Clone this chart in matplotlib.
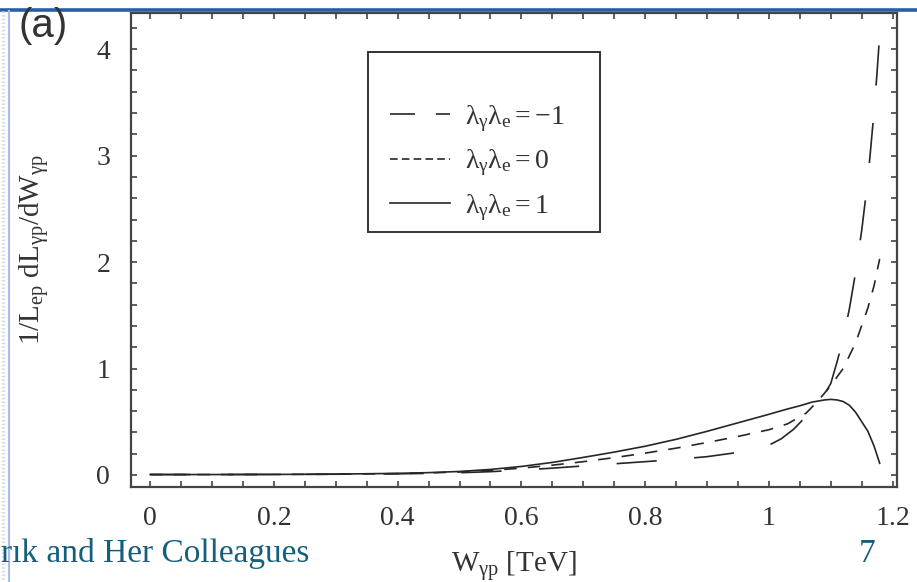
import matplotlib
matplotlib.use('Agg')
import matplotlib.pyplot as plt
from matplotlib.lines import Line2D
from matplotlib.patches import Rectangle
from matplotlib.ticker import MultipleLocator

plt.rcParams['font.family'] = 'Liberation Serif'
plt.rcParams['mathtext.fontset'] = 'custom'
plt.rcParams['mathtext.rm'] = 'Liberation Serif'
plt.rcParams['mathtext.it'] = 'Liberation Serif'
plt.rcParams['mathtext.bf'] = 'Liberation Serif:bold'
plt.rcParams['lines.scale_dashes'] = False

# data (W in TeV)
w_pos = [0, 0.1, 0.2, 0.3, 0.4, 0.45, 0.5, 0.55, 0.6, 0.65, 0.7, 0.75, 0.8, 0.85, 0.9,
         0.95, 1.0, 1.03, 1.05, 1.07, 1.09, 1.10, 1.11, 1.12, 1.13, 1.14, 1.15, 1.16,
         1.17, 1.179]
lum_pos = [0.004, 0.004, 0.005, 0.008, 0.015, 0.022, 0.033, 0.052, 0.08, 0.118, 0.165,
           0.215, 0.27, 0.335, 0.41, 0.49, 0.57, 0.62, 0.65, 0.685, 0.705, 0.71, 0.705,
           0.69, 0.655, 0.59, 0.50, 0.41, 0.27, 0.11]

w_zero = [0, 0.1, 0.2, 0.3, 0.4, 0.45, 0.5, 0.55, 0.6, 0.65, 0.7, 0.75, 0.8, 0.85, 0.9,
          0.95, 1.0, 1.03, 1.06, 1.08, 1.10, 1.12, 1.14, 1.16, 1.17, 1.179]
lum_zero = [0.004, 0.004, 0.005, 0.007, 0.013, 0.019, 0.028, 0.043, 0.064, 0.092, 0.125,
            0.163, 0.205, 0.252, 0.305, 0.362, 0.425, 0.48, 0.58, 0.70, 0.84, 1.00, 1.24,
            1.57, 1.78, 2.03]

w_neg = [0, 0.1, 0.2, 0.3, 0.4, 0.45, 0.5, 0.55, 0.6, 0.65, 0.7, 0.75, 0.8, 0.85, 0.9,
         0.95, 0.98, 1.0, 1.02, 1.04, 1.06, 1.08, 1.09, 1.10, 1.11, 1.12, 1.13, 1.14,
         1.15, 1.16, 1.17, 1.175, 1.18]
lum_neg = [0.004, 0.004, 0.005, 0.007, 0.011, 0.015, 0.021, 0.031, 0.046, 0.064, 0.085,
           0.105, 0.125, 0.146, 0.172, 0.212, 0.245, 0.28, 0.34, 0.43, 0.55, 0.68, 0.76,
           0.86, 1.06, 1.28, 1.56, 1.90, 2.30, 2.78, 3.42, 3.80, 4.22]

legend_labels = [r'$\lambda_\gamma\lambda_e = -1$', r'$\lambda_\gamma\lambda_e = 0$',
                 r'$\lambda_\gamma\lambda_e = 1$']
xticks = [0, 0.2, 0.4, 0.6, 0.8, 1.0, 1.2]
xticklabels = ['0', '0.2', '0.4', '0.6', '0.8', '1', '1.2']
yticks = [0, 1, 2, 3, 4]
yticklabels = ['0', '1', '2', '3', '4']

W, H = 917, 582
fig = plt.figure(figsize=(W / 100, H / 100), dpi=100)
fig.patch.set_facecolor('white')

def fx(px):
    return px / W

def fy(py):
    return 1 - py / H

ax = fig.add_axes([fx(131), fy(487), fx(897) - fx(131), fy(13) - fy(487)])
ink = '#262626'
ax.plot(w_neg, lum_neg, color=ink, lw=1.2, dashes=(29, 27))
ax.plot(w_zero, lum_zero, color=ink, lw=1.2, dashes=(9, 8))
ax.plot(w_pos, lum_pos, color=ink, lw=1.2)

ax.set_xlim(-0.031, 1.207)
ax.set_ylim(-0.113, 4.34)
ax.set_xticks(xticks)
ax.set_xticklabels(xticklabels)
ax.set_yticks(yticks)
ax.set_yticklabels(yticklabels)
ax.xaxis.set_minor_locator(MultipleLocator(0.05))
ax.yaxis.set_minor_locator(MultipleLocator(0.2))
ax.tick_params(which='both', direction='in', top=True, right=True, length=4,
               width=1.1, color='#333333')
ax.tick_params(axis='x', which='major', pad=14, labelsize=20, labelcolor='#333333')
ax.tick_params(axis='y', which='major', pad=15, labelsize=20, labelcolor='#333333')
for s in ax.spines.values():
    s.set_linewidth(1.6)
    s.set_color('#444444')

ax.set_xlabel(r'$W_{\gamma p}$ [TeV]', fontsize=21, color='#333333')
ax.xaxis.set_label_coords(0.5, -0.13)
ax.set_ylabel(r'$1/L_{ep}\ dL_{\gamma p}/dW_{\gamma p}$', fontsize=21, color='#333333')
ax.yaxis.set_label_coords(-0.105, 0.5)

# legend box and entries
fig.add_artist(Rectangle((fx(368), fy(232)), fx(600) - fx(368), fy(52) - fy(232),
                         transform=fig.transFigure, fill=False, lw=1.4, ec='#333333'))
handles = [Line2D([], [], color=ink, lw=1.2, dashes=(18, 15)),
           Line2D([], [], color=ink, lw=1.2, dashes=(5.5, 3)),
           Line2D([], [], color=ink, lw=1.2)]
fig.legend(handles, legend_labels, loc='upper left',
           bbox_to_anchor=(fx(390), fy(103)), frameon=False, fontsize=20,
           handlelength=2.15, handletextpad=0.55, labelspacing=0.5, borderpad=0,
           borderaxespad=0, labelcolor='#333333')

# slide decoration
fig.add_artist(Line2D([0, 1], [fy(9.5), fy(9.5)], transform=fig.transFigure,
                      color='#2860a6', lw=2.6))
fig.add_artist(Line2D([fx(8.5), fx(8.5)], [fy(11), 0], transform=fig.transFigure,
                      color='#a8bfec', lw=1.6))
fig.add_artist(Line2D([fx(3), fx(3)], [fy(11), 0], transform=fig.transFigure,
                      color='#d3d8e2', lw=2.5, ls=':'))
fig.text(fx(43), fy(26), '(a)', family='Liberation Sans', fontsize=29,
         color='#333333', ha='center', va='center')
fig.text(fx(1), fy(562), 'rık and Her Colleagues', fontsize=24, color='#155f7c',
         ha='left', va='baseline')
fig.text(fx(867), fy(562), '7', fontsize=24, color='#155f7c', ha='center',
         va='baseline')

plt.savefig('out.png', dpi=100)
